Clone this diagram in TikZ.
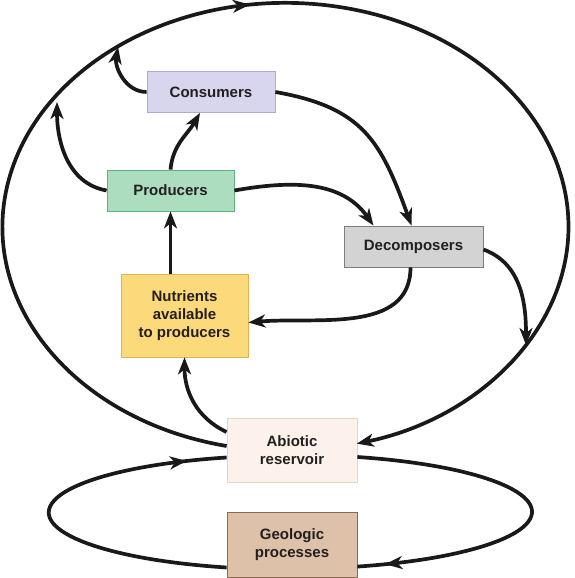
\documentclass[tikz,border=0pt]{standalone}
\usepackage{fontspec}
\newfontfamily\boxfont{Liberation Sans}
\usepackage{tikz}
\usetikzlibrary{positioning,arrows.meta,decorations.markings}
\definecolor{ConsFill}{RGB}{216,213,238}
\definecolor{ConsLine}{RGB}{175,170,210}
\definecolor{ProdFill}{RGB}{172,221,190}
\definecolor{ProdLine}{RGB}{95,180,125}
\definecolor{DecoFill}{RGB}{211,211,211}
\definecolor{DecoLine}{RGB}{125,125,125}
\definecolor{NutrFill}{RGB}{252,217,122}
\definecolor{NutrLine}{RGB}{225,180,80}
\definecolor{AbioFill}{RGB}{253,242,235}
\definecolor{AbioLine}{RGB}{232,212,195}
\definecolor{GeolFill}{RGB}{221,193,168}
\definecolor{GeolLine}{RGB}{140,105,80}
\definecolor{LineBlack}{RGB}{25,25,25}
\definecolor{TextDark}{RGB}{35,31,32}

\begin{document}
\begin{tikzpicture}[
    x=1pt, y=1pt,
    box/.style={
        rectangle, line width=0.8pt, inner sep=0pt,
        align=center, text=TextDark,
        font=\boxfont\bfseries\fontsize{15}{18}\selectfont
    },
    flow/.style={line width=3.7pt, LineBlack},
    arrow/.style={-{Stealth[length=17pt, width=13pt, inset=5pt]}, flow},
    midarrow/.style={
        postaction={decorate},
        decoration={markings,
            mark=at position #1 with {\arrow{Stealth[length=17pt, width=13pt, inset=5pt]}}}
    }
]
\useasboundingbox (0,0) rectangle (575,578);

\node[box, fill=ConsFill, draw=ConsLine, minimum width=128pt, minimum height=41pt] (cons) at (211,486) {Consumers};
\node[box, fill=ProdFill, draw=ProdLine, minimum width=127pt, minimum height=41pt] (prod) at (170.5,387.5) {Producers};
\node[box, fill=DecoFill, draw=DecoLine, minimum width=139pt, minimum height=41pt] (deco) at (413.5,331.5) {Decomposers};
\node[box, fill=NutrFill, draw=NutrLine, minimum width=127pt, minimum height=83pt] (nutr) at (184.5,262.5) {Nutrients\\available\\to producers};
\node[box, fill=AbioFill, draw=AbioLine, minimum width=130pt, minimum height=64pt] (abio) at (292,128) {Abiotic\\reservoir};
\node[box, fill=GeolFill, draw=GeolLine, minimum width=130pt, minimum height=65pt] (geol) at (292,33.5) {Geologic\\processes};

\coordinate (prodTip) at (57,476);
\coordinate (consTip) at (118,531);
\coordinate (decoTip) at (526,233);

\draw[arrow, midarrow=0.48] ([yshift=4pt]abio.west) arc[start angle=258, end angle=-75.4, x radius=283, y radius=224];
\draw[flow, midarrow=-28pt] ([yshift=-7pt]abio.east) arc[start angle=74, end angle=-74, x radius=241, y radius=57];
\draw[flow, midarrow=-40pt] ([yshift=-23pt]geol.west) arc[start angle=254.8, end angle=105.2, x radius=241, y radius=57];

\draw[arrow] ([yshift=18pt]abio.west) to[out=155, in=-90] (nutr.south);
\draw[arrow] (nutr.north -| prod.south) -- (prod.south);
\draw[arrow] (prod.north) to[out=85, in=-120] ([xshift=-11pt]cons.south);
\draw[arrow] (prod.west) to[out=170, in=-90] (prodTip);
\draw[arrow] (cons.west) to[out=180, in=-100] (consTip);
\draw[arrow] (cons.east) to[out=-10, in=110, looseness=1.2] ([xshift=-2pt]deco.north);
\draw[arrow] (prod.east) to[out=10, in=125] ([xshift=-40pt]deco.north);
\draw[arrow] ([xshift=-3pt]deco.south) to[out=-90, in=5] ([yshift=-7pt]nutr.east);
\draw[arrow] ([yshift=-3pt]deco.east) to[out=-20, in=90] (decoTip);

\end{tikzpicture}
\end{document}
